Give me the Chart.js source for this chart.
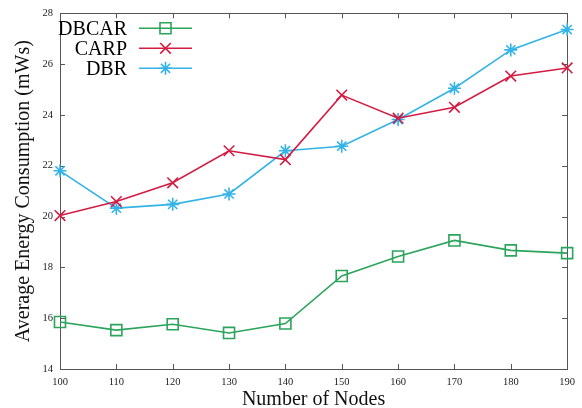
<!DOCTYPE html>
<html>
<head>
<meta charset="utf-8">
<script src="https://cdn.jsdelivr.net/npm/chart.js@4/dist/chart.umd.min.js"></script>
<style>
  html, body { margin: 0; padding: 0; background: #fff; }
  #wrap { width: 582px; height: 408px; }
</style>
</head>
<body>
<div id="wrap"><canvas id="energyChart" width="582" height="408"></canvas></div>
<script>
// Number of nodes on the x axis
const nodes = [100, 110, 120, 130, 140, 150, 160, 170, 180, 190];

// Average energy consumption (mWs) per protocol
const dbcar = [15.85, 15.53, 15.76, 15.42, 15.79, 17.66, 18.43, 19.06, 18.67, 18.56];
const carp  = [20.04, 20.59, 21.33, 22.59, 22.24, 24.78, 23.87, 24.30, 25.53, 25.85];
const dbr   = [21.80, 20.33, 20.48, 20.89, 22.59, 22.77, 23.82, 25.05, 26.56, 27.36];

const yMin = 14, yMax = 28, yStep = 2;
const serif = "'Liberation Serif', 'DejaVu Serif', serif";

function toPoints(values) {
    return nodes.map((n, i) => ({ x: n, y: values[i] }));
}

function series(label, values, color, style, radius) {
    return {
        label: label,
        data: toPoints(values),
        borderColor: color,
        backgroundColor: 'rgba(0,0,0,0)',
        borderWidth: 1.6,
        pointStyle: style,
        pointRadius: radius,
        pointBorderWidth: 1.6,
        pointBorderColor: color,
        pointBackgroundColor: 'rgba(0,0,0,0)',
        tension: 0,
        clip: false
    };
}

// frame, inward ticks on all four sides (gnuplot look)
const framePlugin = {
    id: 'frame',
    beforeDatasetsDraw(chart) {
        const ctx = chart.ctx;
        const a = chart.chartArea;
        const xs = chart.scales.x, ys = chart.scales.y;
        const len = 5;
        ctx.save();
        ctx.strokeStyle = '#555';
        ctx.lineWidth = 1;
        ctx.beginPath();
        xs.ticks.forEach(t => {
            const px = Math.round(xs.getPixelForValue(t.value)) + 0.5;
            ctx.moveTo(px, a.bottom); ctx.lineTo(px, a.bottom - len);
            ctx.moveTo(px, a.top); ctx.lineTo(px, a.top + len);
        });
        ys.ticks.forEach(t => {
            const py = Math.round(ys.getPixelForValue(t.value)) + 0.5;
            ctx.moveTo(a.left, py); ctx.lineTo(a.left + len, py);
            ctx.moveTo(a.right, py); ctx.lineTo(a.right - len, py);
        });
        ctx.stroke();
        ctx.strokeRect(Math.round(a.left) + 0.5, Math.round(a.top) + 0.5,
                       Math.round(a.right - a.left), Math.round(a.bottom - a.top));
        ctx.restore();
    }
};

// legend: text right-aligned, then line sample with marker
const keyPlugin = {
    id: 'key',
    afterDatasetsDraw(chart) {
        const ctx = chart.ctx;
        const a = chart.chartArea;
        const textRight = a.left + 67;
        const x0 = a.left + 79, x1 = a.left + 132;
        ctx.save();
        ctx.font = '20px ' + serif;
        ctx.textAlign = 'right';
        ctx.textBaseline = 'middle';
        chart.data.datasets.forEach((ds, i) => {
            const y = a.top + 15 + i * 20;
            ctx.fillStyle = '#000';
            ctx.fillText(ds.label, textRight, y + 1);
            ctx.strokeStyle = ds.borderColor;
            ctx.lineWidth = ds.borderWidth;
            ctx.beginPath();
            ctx.moveTo(x0, y); ctx.lineTo(x1, y);
            ctx.stroke();
            ctx.fillStyle = 'rgba(0,0,0,0)';
            ctx.lineWidth = ds.pointBorderWidth;
            Chart.helpers.drawPoint(ctx, {
                pointStyle: ds.pointStyle,
                radius: ds.pointRadius,
                rotation: 0,
                borderWidth: ds.pointBorderWidth
            }, (x0 + x1) / 2, y);
        });
        ctx.restore();
    }
};

new Chart(document.getElementById('energyChart').getContext('2d'), {
    type: 'line',
    data: {
        datasets: [
            series('DBCAR', dbcar, '#2ba45c', 'rect', 7.8),
            series('CARP', carp, '#d41c43', 'crossRot', 7.5),
            series('DBR', dbr, '#33b3e6', 'star', 6.5)
        ]
    },
    options: {
        responsive: false,
        animation: false,
        layout: { padding: { left: 0, right: 13, top: 12, bottom: 0 } },
        plugins: {
            legend: { display: false },
            tooltip: { enabled: false }
        },
        scales: {
            x: {
                type: 'linear',
                min: 100,
                max: 190,
                afterFit(scale) { scale.height = 39; },
                grid: { display: false, drawTicks: false },
                border: { display: false },
                ticks: {
                    stepSize: 10,
                    padding: 7,
                    color: '#222',
                    font: { family: serif, size: 10.5 }
                },
                title: {
                    display: true,
                    text: 'Number of Nodes',
                    color: '#111',
                    font: { family: serif, size: 20, lineHeight: 0.85 },
                    padding: { top: 0, bottom: 0 }
                }
            },
            y: {
                min: yMin,
                max: yMax,
                afterFit(scale) { scale.width = 60; },
                grid: { display: false, drawTicks: false },
                border: { display: false },
                ticks: {
                    stepSize: yStep,
                    padding: 7,
                    color: '#222',
                    font: { family: serif, size: 10.5 }
                },
                title: {
                    display: true,
                    text: 'Average Energy Consumption (mWs)',
                    color: '#111',
                    font: { family: serif, size: 20 },
                    padding: { top: 12, bottom: 0 }
                }
            }
        }
    },
    plugins: [framePlugin, keyPlugin]
});
</script>
</body>
</html>
